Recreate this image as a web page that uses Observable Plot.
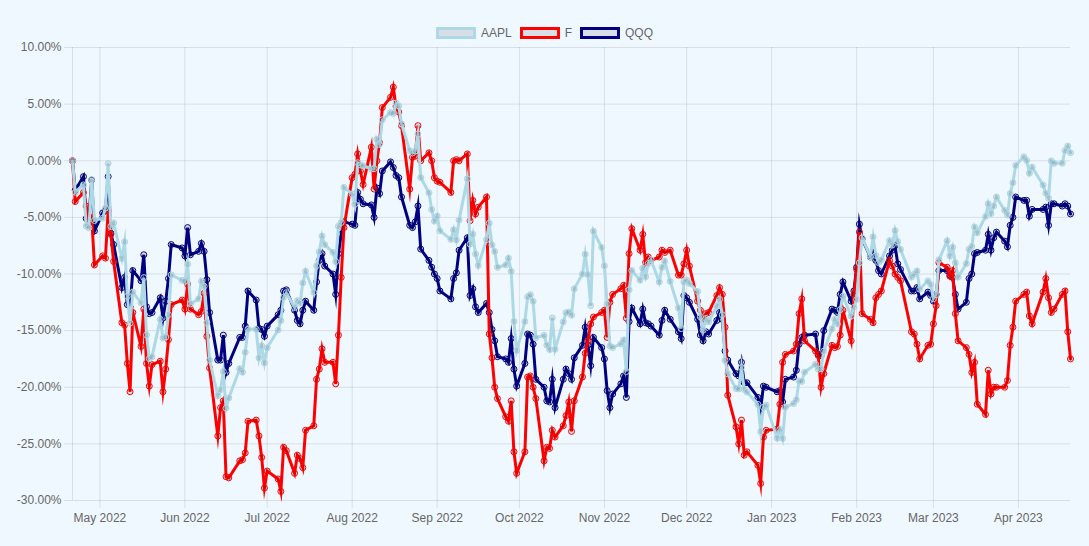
<!DOCTYPE html>
<html>
<head>
<meta charset="utf-8">
<script src="https://cdn.jsdelivr.net/npm/d3@7"></script>
<script src="https://cdn.jsdelivr.net/npm/@observablehq/plot@0.6"></script>
<style>
html, body { margin: 0; padding: 0; background: #f0f8ff; }
body { width: 1089px; height: 546px; overflow: hidden; font-family: "Liberation Sans", Arial, Helvetica, sans-serif; }
#legend { box-sizing: border-box; height: 40px; padding-bottom: 1px; display: flex; justify-content: center; align-items: flex-end; font-size: 12px; color: #666; }
.item { display: flex; align-items: center; height: 12px; margin: 0 4px; }
.box { box-sizing: border-box; width: 40px; height: 12px; border: 3px solid; background: rgba(0,0,0,0.1); margin-right: 5px; }
#chart svg { display: block; }
</style>
</head>
<body>
<div id="legend"></div>
<div id="chart"></div>
<script>
const seriesNames = ["AAPL", "F", "QQQ"];
const seriesColors = ["lightblue", "red", "navy"];

const dates = [
"2022-04-21","2022-04-22","2022-04-25","2022-04-26","2022-04-27","2022-04-28","2022-04-29",
"2022-05-02","2022-05-03","2022-05-04","2022-05-05","2022-05-06","2022-05-09","2022-05-10","2022-05-11","2022-05-12","2022-05-13","2022-05-16","2022-05-17","2022-05-18","2022-05-19","2022-05-20","2022-05-23","2022-05-24","2022-05-25","2022-05-26","2022-05-27","2022-05-31",
"2022-06-01","2022-06-02","2022-06-03","2022-06-06","2022-06-07","2022-06-08","2022-06-09","2022-06-10","2022-06-13","2022-06-14","2022-06-15","2022-06-16","2022-06-17","2022-06-21","2022-06-22","2022-06-23","2022-06-24","2022-06-27","2022-06-28","2022-06-29","2022-06-30",
"2022-07-01","2022-07-05","2022-07-06","2022-07-07","2022-07-08","2022-07-11","2022-07-12","2022-07-13","2022-07-14","2022-07-15","2022-07-18","2022-07-19","2022-07-20","2022-07-21","2022-07-22","2022-07-25","2022-07-26","2022-07-27","2022-07-28","2022-07-29",
"2022-08-01","2022-08-02","2022-08-03","2022-08-04","2022-08-05","2022-08-08","2022-08-09","2022-08-10","2022-08-11","2022-08-12","2022-08-15","2022-08-16","2022-08-17","2022-08-18","2022-08-19","2022-08-22","2022-08-23","2022-08-24","2022-08-25","2022-08-26","2022-08-29","2022-08-30","2022-08-31",
"2022-09-01","2022-09-02","2022-09-06","2022-09-07","2022-09-08","2022-09-09","2022-09-12","2022-09-13","2022-09-14","2022-09-15","2022-09-16","2022-09-19","2022-09-20","2022-09-21","2022-09-22","2022-09-23","2022-09-26","2022-09-27","2022-09-28","2022-09-29","2022-09-30",
"2022-10-03","2022-10-04","2022-10-05","2022-10-06","2022-10-07","2022-10-10","2022-10-11","2022-10-12","2022-10-13","2022-10-14","2022-10-17","2022-10-18","2022-10-19","2022-10-20","2022-10-21","2022-10-24","2022-10-25","2022-10-26","2022-10-27","2022-10-28","2022-10-31",
"2022-11-01","2022-11-02","2022-11-03","2022-11-04","2022-11-07","2022-11-08","2022-11-09","2022-11-10","2022-11-11","2022-11-14","2022-11-15","2022-11-16","2022-11-17","2022-11-18","2022-11-21","2022-11-22","2022-11-23","2022-11-25","2022-11-28","2022-11-29","2022-11-30",
"2022-12-01","2022-12-02","2022-12-05","2022-12-06","2022-12-07","2022-12-08","2022-12-09","2022-12-12","2022-12-13","2022-12-14","2022-12-15","2022-12-16","2022-12-19","2022-12-20","2022-12-21","2022-12-22","2022-12-23","2022-12-27","2022-12-28","2022-12-29","2022-12-30",
"2023-01-03","2023-01-04","2023-01-05","2023-01-06","2023-01-09","2023-01-10","2023-01-11","2023-01-12","2023-01-13","2023-01-17","2023-01-18","2023-01-19","2023-01-20","2023-01-23","2023-01-24","2023-01-25","2023-01-26","2023-01-27","2023-01-30","2023-01-31",
"2023-02-01","2023-02-02","2023-02-03","2023-02-06","2023-02-07","2023-02-08","2023-02-09","2023-02-10","2023-02-13","2023-02-14","2023-02-15","2023-02-16","2023-02-17","2023-02-21","2023-02-22","2023-02-23","2023-02-24","2023-02-27","2023-02-28",
"2023-03-01","2023-03-02","2023-03-03","2023-03-06","2023-03-07","2023-03-08","2023-03-09","2023-03-10","2023-03-13","2023-03-14","2023-03-15","2023-03-16","2023-03-17","2023-03-20","2023-03-21","2023-03-22","2023-03-23","2023-03-24","2023-03-27","2023-03-28","2023-03-29","2023-03-30","2023-03-31",
"2023-04-03","2023-04-04","2023-04-05","2023-04-06","2023-04-10","2023-04-11","2023-04-12","2023-04-13","2023-04-14","2023-04-17","2023-04-18","2023-04-19","2023-04-20"
];

// % change since first date
const aapl = [
0, -2.78, -2.13, -5.78, -5.92, -1.67, -5.27,
-5.08, -4.17, -0.24, -5.80, -5.49, -8.63, -7.16, -11.97, -14.34, -11.60, -12.55, -10.32, -15.38, -17.47, -17.32, -14.01, -15.66, -15.56, -13.60, -10.08, -10.56,
-10.64, -9.14, -12.64, -12.19, -10.64, -11.09, -14.29, -17.60, -20.75, -20.23, -18.62, -21.85, -20.95, -18.36, -18.67, -16.92, -14.88, -14.88, -17.41, -16.34, -17.85,
-16.52, -14.94, -14.12, -12.06, -11.65, -12.95, -12.35, -12.58, -10.79, -9.76, -11.63, -9.27, -8.04, -6.65, -7.41, -8.09, -8.91, -5.79, -5.45, -2.35,
-2.95, -3.85, -0.17, -0.37, -0.44, -0.73, -0.70, 1.89, 1.44, 3.61, 4.27, 4.17, 5.09, 4.84, 3.26, 0.89, 0.69, 0.87, 2.37, -1.48, -2.83, -4.31, -5.33,
-4.88, -6.18, -6.94, -6.09, -6.99, -5.24, -1.60, -7.36, -6.48, -8.24, -9.25, -6.97, -5.52, -7.43, -8.02, -9.41, -9.20, -8.61, -9.76, -14.19, -16.76,
-14.20, -12.01, -11.83, -12.41, -15.62, -15.42, -16.29, -16.67, -13.88, -16.65, -14.23, -13.42, -13.36, -13.64, -11.31, -10.00, -8.26, -10.06, -12.79, -6.22, -7.66,
-9.28, -12.65, -16.35, -16.50, -16.17, -15.83, -18.61, -11.40, -9.70, -10.55, -9.49, -10.24, -9.08, -8.74, -10.71, -9.41, -8.87, -10.65, -12.99, -14.82, -10.70,
-10.53, -10.83, -11.54, -13.78, -14.96, -13.93, -14.23, -12.83, -12.24, -13.60, -17.63, -18.82, -20.11, -20.15, -18.26, -20.19, -20.42, -21.52, -23.91, -21.77, -21.58,
-24.50, -23.72, -24.53, -21.76, -21.44, -21.10, -19.44, -19.49, -18.67, -17.97, -18.40, -18.37, -16.81, -14.86, -14.01, -14.41, -13.15, -11.96, -13.72, -12.95,
-12.26, -9.02, -6.81, -8.48, -6.72, -8.36, -8.99, -8.76, -7.05, -7.44, -6.16, -7.14, -7.83, -10.28, -10.02, -9.73, -11.34, -10.62, -10.92,
-12.18, -11.82, -8.75, -7.07, -8.41, -7.64, -9.01, -10.27, -9.08, -7.81, -7.57, -5.85, -6.36, -4.92, -3.79, -4.66, -4.00, -3.21, -4.39, -4.77, -2.90, -1.94, -0.41,
0.35, 0.03, -1.10, -0.56, -2.14, -2.88, -3.30, -0.02, -0.23, -0.22, 0.90, 1.30, 0.70
];

const ford = [
0, -3.6, -2.8, -4.0, -5.5, -5.0, -9.2,
-8.4, -8.6, -4.4, -6.5, -8.9, -14.3, -14.5, -17.9, -20.4, -13.4, -16.4, -13.1, -17.9, -19.9, -18.0, -17.7, -20.4, -18.4, -15.8, -12.7, -12.3,
-13.1, -10.9, -13.1, -13.6, -13.3, -11.7, -15.5, -18.3, -24.3, -21.8, -21.2, -27.9, -28.0, -26.5, -26.4, -25.8, -23.0, -22.9, -24.3, -26.2, -28.9,
-27.4, -28.1, -29.2, -25.3, -25.6, -27.6, -26.0, -26.3, -27.1, -23.8, -23.4, -19.3, -18.4, -16.6, -17.8, -17.8, -19.7, -15.4, -10.3, -5.9,
-1.5, -1.2, 0.6, -0.9, -2.1, 1.2, -2.5, 0.0, 1.6, 4.7, 5.6, 6.5, 4.8, 4.3, 3.1, -2.5, 0.3, 0.4, 3.1, 0.0, 0.7, 0.0, -1.5,
-1.8, -1.9, -2.8, 0.0, 0.1, 0.0, 0.6, -5.3, -3.5, -4.7, -4.1, -3.2, -15.3, -17.4, -20.0, -21.0, -22.6, -23.0, -21.2, -25.7, -27.6,
-25.7, -19.1, -19.0, -20.0, -21.0, -26.5, -25.3, -25.4, -23.8, -24.4, -23.4, -22.5, -21.3, -23.9, -21.2, -19.1, -17.0, -15.9, -14.4, -13.8, -13.4,
-13.2, -15.6, -12.5, -11.8, -11.3, -11.0, -13.9, -8.2, -6.0, -7.9, -6.5, -9.0, -8.5, -8.8, -8.5, -7.9, -8.1, -7.9, -10.1, -10.1, -9.1,
-7.9, -9.3, -12.4, -13.2, -14.0, -13.5, -13.4, -11.9, -11.2, -11.8, -14.7, -20.7, -23.5, -25.0, -22.9, -26.0, -25.7, -26.9, -28.5, -24.4, -23.8,
-23.7, -21.5, -17.8, -17.1, -16.8, -16.2, -13.5, -12.2, -15.9, -16.8, -17.2, -20.0, -18.8, -16.3, -16.5, -16.4, -15.4, -13.2, -15.9, -11.8,
-9.6, -6.3, -13.5, -14.0, -14.3, -12.1, -11.8, -11.5, -8.8, -9.3, -10.0, -10.3, -10.6, -15.1, -15.3, -16.2, -17.5, -16.3, -16.2,
-14.4, -12.8, -9.0, -9.4, -10.2, -9.7, -13.5, -15.9, -16.5, -17.1, -18.7, -17.8, -21.5, -22.4, -18.5, -20.6, -20.0, -20.0, -20.0, -19.4, -16.3, -14.7, -12.4,
-11.8, -11.6, -13.7, -14.4, -11.6, -10.4, -12.1, -13.4, -13.1, -11.8, -11.5, -15.1, -17.5
];

const qqq = [
0, -2.6, -1.4, -5.1, -5.0, -1.7, -6.2,
-4.6, -4.4, -1.4, -6.4, -7.4, -11.2, -10.3, -12.7, -12.9, -9.7, -10.6, -8.3, -12.9, -13.5, -13.4, -12.1, -13.9, -12.4, -10.4, -7.4, -7.7,
-8.4, -5.9, -8.3, -8.0, -7.3, -8.0, -10.5, -13.4, -17.6, -17.6, -15.4, -18.7, -17.9, -15.6, -15.6, -14.6, -11.5, -12.3, -14.8, -14.9, -15.5,
-14.6, -13.6, -13.2, -11.5, -11.4, -13.2, -14.1, -14.4, -13.2, -12.4, -13.2, -10.7, -8.8, -8.2, -9.3, -10.0, -11.8, -8.2, -6.5, -5.4,
-5.6, -5.7, -2.8, -3.4, -3.8, -3.9, -5.0, -2.4, -2.9, -0.9, -0.1, -0.6, -1.3, -1.5, -3.2, -5.7, -5.9, -5.4, -4.0, -7.8, -8.8, -9.4, -10.0,
-10.4, -11.5, -12.2, -10.4, -9.9, -7.9, -6.8, -11.9, -11.3, -12.9, -13.4, -12.6, -13.4, -14.9, -15.9, -17.3, -17.5, -17.8, -15.7, -18.4, -19.9,
-17.9, -15.3, -15.4, -16.2, -19.3, -20.0, -21.2, -21.3, -19.3, -21.8, -19.3, -18.4, -18.8, -19.3, -17.4, -16.3, -14.7, -16.3, -18.1, -15.6, -16.5,
-17.5, -20.3, -21.8, -20.6, -19.7, -19.0, -20.9, -14.2, -13.0, -14.4, -13.1, -14.3, -14.4, -14.6, -15.4, -14.1, -13.2, -14.0, -15.1, -15.7, -11.9,
-12.1, -12.5, -14.0, -15.4, -15.9, -15.1, -15.3, -14.1, -13.4, -14.0, -16.8, -17.6, -18.8, -19.0, -17.8, -19.6, -19.6, -20.9, -21.9, -19.9, -20.0,
-20.4, -20.3, -21.3, -19.3, -19.1, -18.5, -16.2, -15.6, -15.4, -15.3, -17.1, -17.2, -15.0, -13.1, -13.2, -13.4, -11.8, -10.7, -12.4, -11.5,
-9.4, -5.6, -6.9, -8.5, -8.1, -8.8, -9.7, -10.0, -8.4, -7.9, -7.5, -9.1, -9.6, -11.5, -11.5, -11.2, -12.2, -11.6, -11.9,
-12.4, -11.8, -9.7, -9.7, -10.1, -10.3, -11.8, -13.1, -12.5, -10.4, -10.0, -8.2, -8.1, -7.9, -6.5, -7.9, -6.8, -6.3, -7.1, -7.6, -5.7, -5.0, -3.2,
-3.5, -3.5, -4.9, -4.3, -4.3, -4.1, -5.7, -3.8, -3.8, -4.0, -3.8, -4.0, -4.7
];

const yTicks = [-30, -25, -20, -15, -10, -5, 0, 5, 10];
const monthTicks = ["2022-05-01","2022-06-01","2022-07-01","2022-08-01","2022-09-01","2022-10-01","2022-11-01","2022-12-01","2023-01-01","2023-02-01","2023-03-01","2023-04-01"];

// legend
const legend = document.getElementById("legend");
seriesNames.forEach((name, i) => {
  const item = document.createElement("div");
  item.className = "item";
  const box = document.createElement("div");
  box.className = "box";
  box.style.borderColor = seriesColors[i];
  const label = document.createElement("span");
  label.textContent = name;
  item.appendChild(box);
  item.appendChild(label);
  legend.appendChild(item);
});

const parse = d3.utcParse("%Y-%m-%d");
const valuesBySeries = [aapl, ford, qqq];
valuesBySeries.forEach((v, i) => { if (v.length !== dates.length) console.error(seriesNames[i], v.length, dates.length); });

const tables = seriesNames.map((name, i) =>
  dates.map((d, j) => ({date: parse(d), value: valuesBySeries[i][j], series: name}))
);

const gridColor = "rgba(0,0,0,0.1)";
const seriesMarks = [];
// draw last series first so that the first series ends on top
for (let i = seriesNames.length - 1; i >= 0; i--) {
  seriesMarks.push(
    Plot.line(tables[i], {x: "date", y: "value", stroke: seriesColors[i], strokeWidth: 3, strokeLinejoin: "miter", strokeMiterlimit: 10, curve: "linear"}),
    Plot.dot(tables[i], {x: "date", y: "value", r: 3, stroke: seriesColors[i], strokeWidth: 1, fill: "black", fillOpacity: 0.1})
  );
}

const chart = Plot.plot({
  width: 1089,
  height: 506,
  marginTop: 7,
  marginBottom: 46,
  marginLeft: 72,
  marginRight: 19,
  style: {background: "transparent", fontFamily: "'Liberation Sans', Arial, Helvetica, sans-serif", fontSize: "12px", overflow: "visible"},
  x: {type: "utc", domain: [parse(dates[0]), parse(dates[dates.length - 1])]},
  y: {domain: [-30, 10]},
  marks: [
    Plot.gridY(yTicks, {stroke: "#000", strokeOpacity: 0.1, strokeWidth: 1, insetLeft: -8}),
    Plot.gridX(monthTicks.map(parse), {stroke: "#000", strokeOpacity: 0.1, strokeWidth: 1, insetBottom: -8}),
    Plot.ruleX([parse(dates[0])], {stroke: "#000", strokeOpacity: 0.1, strokeWidth: 1}),
    Plot.axisY(yTicks, {tickSize: 0, tickPadding: 11, tickFormat: d => d.toFixed(2) + "%", color: "#666", label: null, fontSize: 12}),
    Plot.axisX(monthTicks.map(parse), {tickSize: 0, tickPadding: 13, tickFormat: d3.utcFormat("%b %Y"), color: "#666", label: null, fontSize: 12}),
    ...seriesMarks
  ]
});
document.getElementById("chart").appendChild(chart);
</script>
</body>
</html>
